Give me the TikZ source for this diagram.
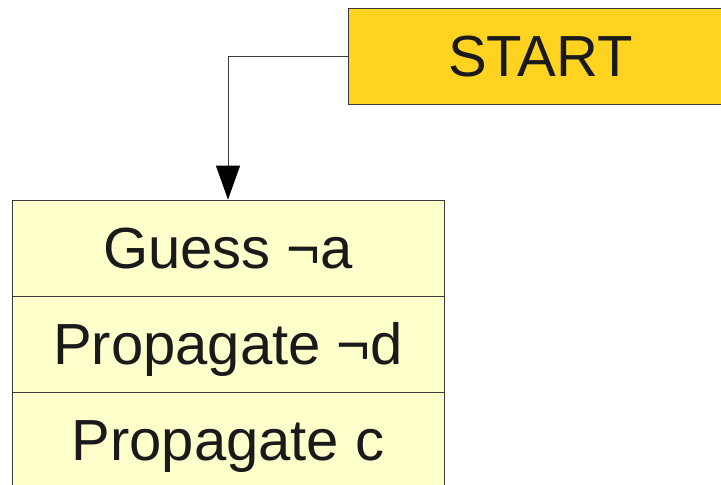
\documentclass[tikz,border=0pt]{standalone}
\usepackage{fontspec}
\setmainfont{Liberation Sans}
\usetikzlibrary{arrows.meta}
\definecolor{startfill}{HTML}{FFD320}
\definecolor{rowfill}{HTML}{FFFFCC}
\definecolor{lineC}{HTML}{3A3A3A}
\definecolor{textC}{HTML}{1A1A1A}
\tikzset{
  boxbase/.style={draw=lineC, line width=0.8pt, inner sep=0pt,
    text height=41.5pt, text depth=0pt, text=textC,
    font=\fontsize{58}{60}\selectfont},
  startbox/.style={boxbase, fill=startfill, minimum width=385pt, minimum height=96pt},
  rowbox/.style={boxbase, fill=rowfill, minimum width=432pt, minimum height=96pt},
  flow/.style={draw=lineC, line width=0.8pt, -{Triangle[length=34pt,width=24pt,color=black]}}
}
\begin{document}
\begin{tikzpicture}[x=1pt,y=-1pt]
\useasboundingbox (0,0) rectangle (721,485);
\clip (0,0) rectangle (721,485);
\fill[white] (0,0) rectangle (721,485);
\node[startbox] (start) at (540.5,56) {START};
\node[rowbox] (g) at (228,248) {Guess ¬a};
\node[rowbox] (p1) at (228,344) {Propagate ¬d};
\node[rowbox] (p2) at (228,440) {Propagate c};
\draw[flow] (start.west) -| (g.north);
\end{tikzpicture}
\end{document}
